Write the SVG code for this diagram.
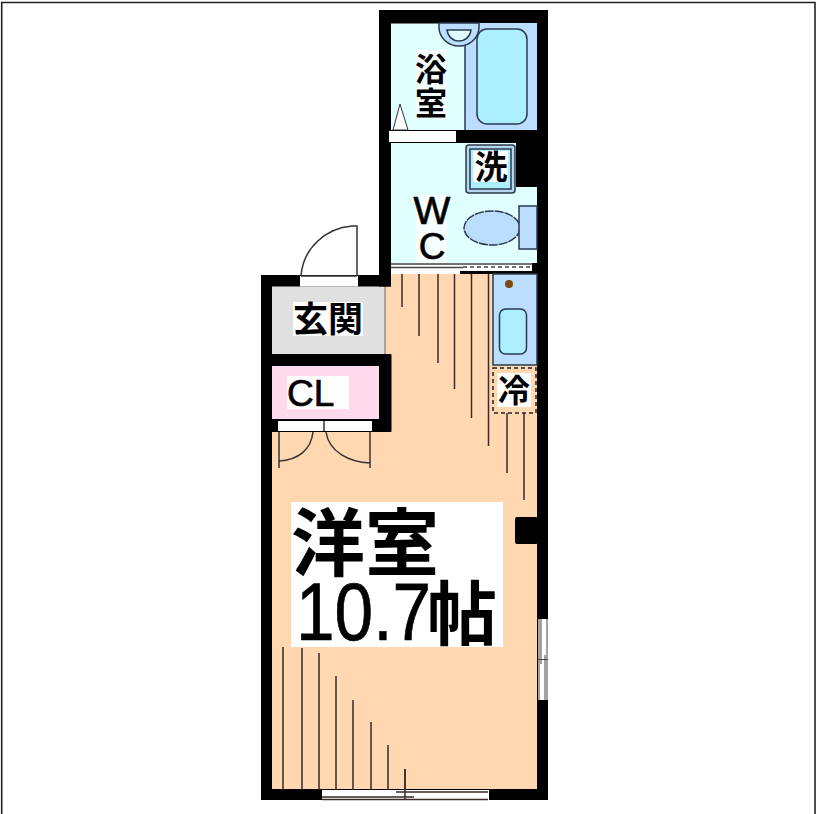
<svg xmlns="http://www.w3.org/2000/svg" width="816" height="814" viewBox="0 0 816 814">
<style>
.w{fill:#000}.ln{stroke:#333;stroke-width:1.5;fill:none}.fl{stroke:#3a2a28;stroke-width:1.5;fill:none}
.o{stroke:#2a3a4a;stroke-width:1.5}
.t{font-family:"Noto Sans CJK JP","Liberation Sans",sans-serif;font-weight:700;fill:#000;text-anchor:middle}
.a{font-family:"Liberation Sans",sans-serif;fill:#000;stroke:#000;stroke-width:.7}
</style>
<rect width="816" height="814" fill="#fff"/>
<path d="M1.700 814V2.500H815V814" fill="none" stroke="#222" stroke-width="1.600"/>
<g id="floor-plan">
<path d="M385 274H537V790H272V432H385Z" fill="#FFD8B2"/>
<rect x="391" y="23" width="146" height="107" fill="#E0FFFF"/>
<rect x="391" y="143" width="146" height="120" fill="#E0FFFF"/>
<rect x="272" y="286" width="113" height="68" fill="#E0E0E0"/>
<path d="M385 286V354" stroke="#666"/>
</g>
<g id="walls" class="w">
<rect x="379" y="10" width="169" height="13.500"/>
<rect x="379" y="10" width="12" height="276.500"/>
<rect x="537" y="10" width="11" height="790"/>
<rect x="261" y="275" width="130" height="11.500"/>
<rect x="261" y="275" width="11" height="525"/>
<rect x="261" y="789" width="287" height="11"/>
<rect x="261" y="354" width="130" height="12"/>
<rect x="379" y="354" width="12.500" height="78" rx="1"/>
<rect x="261" y="419" width="130" height="13"/>
<rect x="391" y="130" width="146" height="13"/>
<rect x="516" y="143" width="21" height="44"/>
<rect x="515" y="517" width="23" height="27" rx="2"/>
<rect x="272" y="366" width="107" height="53" fill="#FFD9EC"/>
</g>
<g id="bath">
<rect x="465" y="23" width="72" height="107" fill="#BBDDFF"/>
<path d="M465 23V130" class="o"/>
<rect x="477" y="29" width="50" height="95" rx="10" fill="#AAEEFF" class="o" stroke-width="2"/>
<path d="M439 23V27A20 19 0 0 0 479 27V23Z" fill="#BBDDFF" class="o"/>
<path d="M447 30H471C470 37 465 41 459 41C453 41 448 37 447 30Z" fill="#E0FFFF" class="o"/>
<path d="M393 130L400 104L408 130Z" fill="#fff" stroke="#333"/>
<rect x="389" y="131" width="67" height="11" fill="#fff"/>
<rect x="416" y="50" width="31" height="69" fill="#fff" opacity=".7"/>
<text class="t" x="431" y="81" font-size="32">浴</text>
<text class="t" x="431" y="115" font-size="32">室</text>
</g>
<g id="wc">
<rect x="466" y="145" width="49" height="48" rx="3" fill="#B5D5F0" class="o"/>
<rect x="470" y="149" width="41" height="40" fill="#AAEEFF" class="o"/>
<rect x="473" y="151" width="35" height="31" fill="#fff"/>
<text class="t" x="491" y="179" font-size="33">洗</text>
<ellipse cx="492" cy="228" rx="28" ry="17" fill="#BBDDFF" stroke="#2a3a4a" stroke-width="1.500" stroke-dasharray="9 1"/>
<rect x="519" y="206" width="18" height="43" fill="#BBDDFF" class="o"/>
<rect x="416" y="195" width="31" height="68" fill="#fff" opacity=".7"/>
<text class="a" x="432" y="224" font-size="39" text-anchor="middle">W</text>
<text class="a" x="432" y="259" font-size="37" text-anchor="middle">C</text>
<rect x="391" y="263" width="141" height="9" fill="#fff"/>
<path d="M391 264H532M391 267.500H463" stroke="#444" stroke-width="1.500"/>
<path d="M463 267H532" stroke="#444" stroke-width="1.500" stroke-dasharray="4 3"/>
<rect x="460" y="271" width="77" height="3" fill="#000"/>
<rect x="532" y="263" width="5" height="11" fill="#000"/>
</g>
<g id="entrance">
<rect x="300" y="276" width="58" height="10.500" fill="#fff"/>
<path d="M301 276H357" class="ln"/>
<path d="M357 276V226H352C326 228 303 248 301 276" class="ln"/>
<rect x="293" y="302" width="70" height="34" fill="#fff"/>
<text class="t" x="328" y="332" font-size="35">玄関</text>
</g>
<g id="closet">
<rect x="287" y="376" width="62" height="33" fill="#fff"/>
<text class="a" x="287" y="406" font-size="37">CL</text>
<rect x="278" y="421" width="94" height="10" fill="#fff"/>
<path d="M324 421V431M279 432V468M370 432V468M279 461C298 460 311 450 313 432M370 463C349 462 329 452 326 432" class="ln"/>
</g>
<g id="kitchen">
<rect x="493" y="274" width="44" height="91" fill="#BBDDFF" class="o"/>
<rect x="499.500" y="309" width="27" height="45" rx="6" fill="#AAEEFF" class="o"/>
<circle cx="509" cy="284" r="4" fill="#7a4a10"/>
<rect x="493" y="368" width="43" height="45" fill="none" stroke="#222" stroke-width="1.500" stroke-dasharray="4 3"/>
<rect x="497" y="373" width="34" height="34" fill="#fff"/>
<text class="t" x="514" y="402" font-size="32">冷</text>
</g>
<g id="room-label">
<rect x="291" y="502" width="212" height="145" fill="#fff"/>
<text class="t" x="365" y="570" font-size="74">洋室</text>
<text class="a" x="296" y="640" font-size="81" stroke-width="1.500" textLength="135" lengthAdjust="spacingAndGlyphs">10.7</text>
<text class="t" x="462" y="640" font-size="70">帖</text>
</g>
<g id="floor-lines" class="fl">
<path d="M402 274V307M419 274V336M438 274V363M454.500 274V389M471.500 274V418M488.500 274V446M507 413V473M524 413V500"/>
<path d="M283 647V790M302 648V790M319 653V790M336 676V790M353 700V790M371 722V790M388 745V790M405 769V800"/>
</g>
<g id="windows">
<rect x="322" y="790" width="167" height="10" fill="#fff"/>
<path d="M396 792H488M322 797H414M322 799.500H488M405 769V800" class="fl"/>
<rect x="538" y="619" width="10" height="81" fill="#fff"/>
<path d="M539 619V700M547 619V700M541 619V664M545 655V700M538 659.500H548" stroke="#444" stroke-width="1" fill="none"/>
</g>
</svg>
